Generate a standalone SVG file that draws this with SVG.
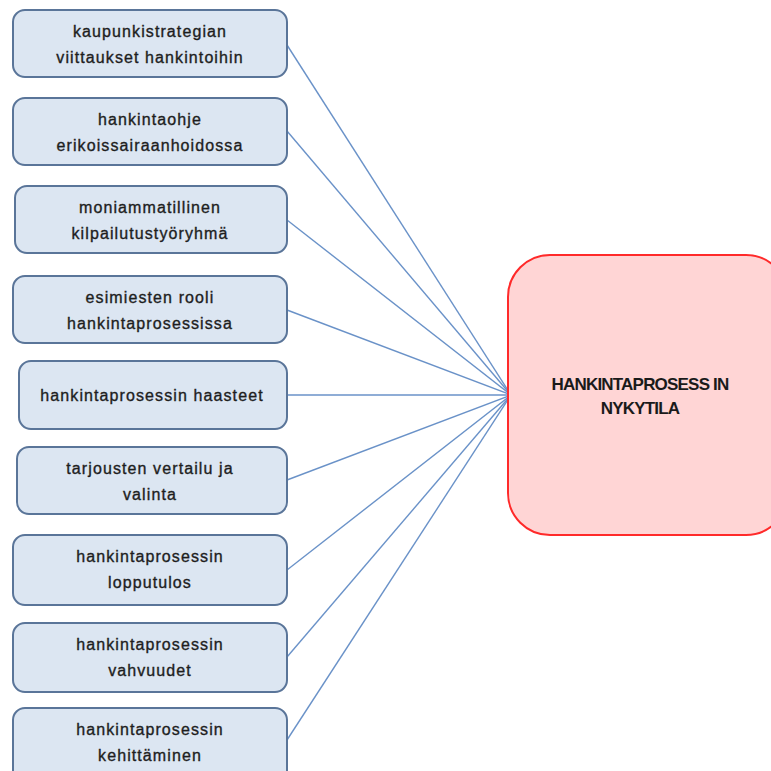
<svg xmlns="http://www.w3.org/2000/svg" width="771" height="771" viewBox="0 0 771 771">
<style>
.box{fill:#dce6f2;stroke:#5a7599;stroke-width:2}
.t{font-family:"Liberation Sans",Arial,sans-serif;font-size:16px;fill:#1e1e1e;stroke:#1e1e1e;stroke-width:0.35;text-anchor:middle;letter-spacing:1.1px}
.c{font-family:"Liberation Sans",Arial,sans-serif;font-size:17px;font-weight:bold;fill:#1a1a1a;text-anchor:middle;letter-spacing:-0.8px}
.ln{stroke:#6a92c8;stroke-width:1.4;fill:none}
</style>
<rect width="771" height="771" fill="#ffffff"/>
<g id="connectors">
<line class="ln" x1="287" y1="45" x2="511" y2="395"/>
<line class="ln" x1="287" y1="131" x2="511" y2="395"/>
<line class="ln" x1="287" y1="220" x2="511" y2="395"/>
<line class="ln" x1="287" y1="310" x2="511" y2="395"/>
<line class="ln" x1="287" y1="395" x2="511" y2="395"/>
<line class="ln" x1="287" y1="480" x2="511" y2="395"/>
<line class="ln" x1="287" y1="570" x2="511" y2="395"/>
<line class="ln" x1="287" y1="657" x2="511" y2="395"/>
<line class="ln" x1="287" y1="740" x2="511" y2="395"/>
</g>
<g id="n1"><rect class="box" x="13" y="10" width="274" height="67" rx="12"/><text class="t" x="150" y="37">kaupunkistrategian</text><text class="t" x="150" y="63">viittaukset  hankintoihin</text></g>
<g id="n2"><rect class="box" x="13" y="98" width="274" height="67" rx="12"/><text class="t" x="150" y="125">hankintaohje</text><text class="t" x="150" y="151">erikoissairaanhoidossa</text></g>
<g id="n3"><rect class="box" x="15" y="186" width="272" height="67" rx="12"/><text class="t" x="150" y="213">moniammatillinen</text><text class="t" x="150" y="239">kilpailutustyöryhmä</text></g>
<g id="n4"><rect class="box" x="13" y="276" width="274" height="67" rx="12"/><text class="t" x="150" y="303">esimiesten  rooli</text><text class="t" x="150" y="329">hankintaprosessissa</text></g>
<g id="n5"><rect class="box" x="19" y="361" width="268" height="68" rx="12"/><text class="t" x="152" y="401">hankintaprosessin haasteet</text></g>
<g id="n6"><rect class="box" x="17" y="447" width="270" height="67" rx="12"/><text class="t" x="150" y="474">tarjousten vertailu  ja</text><text class="t" x="150" y="500">valinta</text></g>
<g id="n7"><rect class="box" x="13" y="535" width="274" height="70" rx="12"/><text class="t" x="150" y="562">hankintaprosessin</text><text class="t" x="150" y="588">lopputulos</text></g>
<g id="n8"><rect class="box" x="13" y="623" width="274" height="69" rx="12"/><text class="t" x="150" y="650">hankintaprosessin</text><text class="t" x="150" y="676">vahvuudet</text></g>
<g id="n9"><rect class="box" x="13" y="708" width="274" height="75" rx="12"/><text class="t" x="150" y="735">hankintaprosessin</text><text class="t" x="150" y="761">kehittäminen</text></g>
<g id="center"><rect x="508" y="255" width="280" height="280" rx="42" fill="#ffd5d5" stroke="#ff2a2a" stroke-width="2"/><text class="c" x="640" y="390">HANKINTAPROSESS IN</text><text class="c" x="640" y="414">NYKYTILA</text></g>
</svg>
